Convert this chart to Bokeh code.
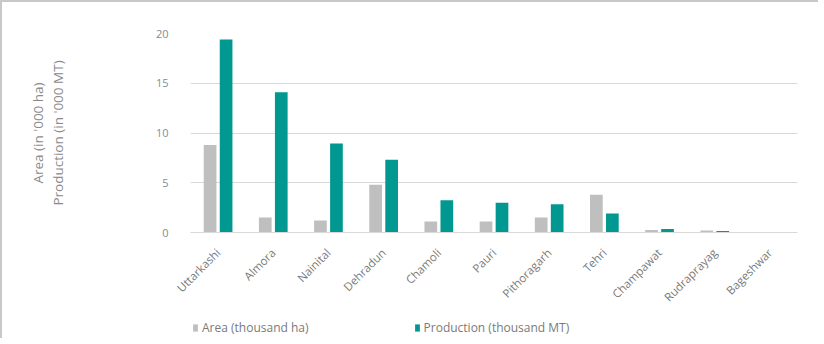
import math
from bokeh.plotting import figure
from bokeh.layouts import column
from bokeh.models import ColumnDataSource, FactorRange, Range1d, Legend, LegendItem, FixedTicker
from bokeh.transform import dodge
from bokeh.embed import file_html
from bokeh.resources import INLINE

districts = ["Uttarkashi", "Almora", "Nainital", "Dehradun", "Chamoli", "Pauri",
             "Pithoragarh", "Tehri", "Champawat", "Rudraprayag", "Bageshwar"]
area = [8.8, 1.5, 1.2, 4.8, 1.1, 1.1, 1.5, 3.8, 0.25, 0.2, 0.03]
production = [19.4, 14.1, 8.95, 7.3, 3.25, 3.0, 2.85, 1.9, 0.35, 0.15, 0.02]
y_ticks = [0, 5, 10, 15, 20]
series_labels = ["Area (thousand ha)", "Production (thousand MT)"]

src = ColumnDataSource(dict(district=districts, area=area, production=production))

FONT = "Open Sans"
GRAY = "#bfbfbf"
TEAL = "#009891"
xr = FactorRange(*districts, range_padding=0)

p = figure(width=818, height=310, x_range=xr, y_range=Range1d(0, 20),
           output_backend="svg", toolbar_location=None,
           min_border_left=188, min_border_right=23, min_border_top=31, min_border_bottom=80)
p.styles = {"border-top": "2px solid #c8c8c8", "border-left": "2px solid #c8c8c8"}
p.outline_line_color = None

p.vbar(x=dodge("district", -0.145, range=xr), top="area", width=0.23,
       source=src, fill_color=GRAY, line_color=None)
p.vbar(x=dodge("district", 0.145, range=xr), top="production", width=0.23,
       source=src, fill_color=TEAL, line_color=None)

p.xgrid.grid_line_color = None
p.ygrid.grid_line_color = "#d9d9d9"
p.ygrid.grid_line_width = 1
p.yaxis.ticker = FixedTicker(ticks=y_ticks)
p.yaxis.axis_line_color = None
p.yaxis.major_tick_line_color = None
p.yaxis.minor_tick_line_color = None
p.yaxis.major_tick_out = 0
p.yaxis.major_label_standoff = 22
p.yaxis.major_label_text_font = FONT
p.yaxis.major_label_text_font_size = "11px"
p.yaxis.major_label_text_color = "#8a8a8a"
p.yaxis.axis_label = "Area (in '000 ha)\nProduction (in '000 MT)"
p.yaxis.axis_label_standoff = 86
p.yaxis.axis_label_text_font = FONT
p.yaxis.axis_label_text_font_size = "13.5px"
p.yaxis.axis_label_text_font_style = "normal"
p.yaxis.axis_label_text_color = "#8a8a8a"
p.yaxis.axis_label_text_line_height = 1.1

p.xaxis.axis_line_color = "#d9d9d9"
p.xaxis.major_tick_line_color = None
p.xaxis.minor_tick_line_color = None
p.xaxis.major_tick_out = 0
p.xaxis.major_label_orientation = math.pi / 4
p.xaxis.major_label_standoff = 18
p.xaxis.major_label_text_font = FONT
p.xaxis.major_label_text_font_size = "11.5px"
p.xaxis.major_label_text_color = "#7a7a7a"

# legend strip: a second figure whose frame holds the legend
q = figure(width=818, height=28, x_range=xr, y_range=Range1d(100, 101),
           output_backend="svg", toolbar_location=None, x_axis_type=None, y_axis_type=None,
           min_border=0)
q.styles = {"border-left": "2px solid #c8c8c8"}
q.outline_line_color = None
q.grid.grid_line_color = None
qa = q.vbar(x=dodge("district", -0.145, range=xr), top="area", width=0.23,
            source=src, fill_color=GRAY, line_color=None)
qp = q.vbar(x=dodge("district", 0.145, range=xr), top="production", width=0.23,
            source=src, fill_color=TEAL, line_color=None)
lg = Legend(items=[LegendItem(label=series_labels[0], renderers=[qa]),
                   LegendItem(label=series_labels[1], renderers=[qp])],
            location=(2, 2), orientation="horizontal", padding=0, margin=0, spacing=105,
            border_line_color=None, background_fill_alpha=0, glyph_width=6, glyph_height=9,
            label_standoff=4, label_text_font=FONT, label_text_font_size="12px",
            label_text_color="#7a7a7a")
q.add_layout(lg, "center")

layout = column(p, q, spacing=0)
open("out.html", "w").write(file_html(layout, INLINE))
